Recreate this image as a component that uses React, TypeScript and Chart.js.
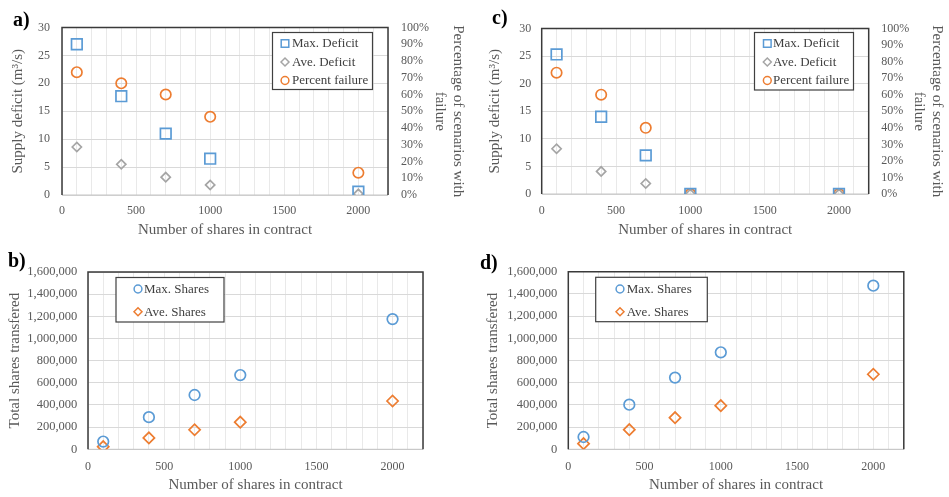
import React, { useEffect, useRef } from 'react';
import { Chart, registerables } from 'chart.js';

Chart.register(...registerables);

// ---------- data ----------
const shares = [100, 400, 700, 1000, 2000];
const xTickValues = [0, 500, 1000, 1500, 2000];

// panel a
const aMaxDeficit = [27.0, 17.7, 11.0, 6.5, 0.6];
const aAveDeficit = [8.6, 5.5, 3.2, 1.8, 0.2];
const aPercentFailure = [73.3, 66.7, 60.0, 46.7, 13.3];

// panel c
const cMaxDeficit = [25.3, 14.0, 7.0, 0, 0];
const cAveDeficit = [8.2, 4.1, 1.9, 0, 0];
const cPercentFailure = [73.3, 60.0, 40.0, 0, 0];

// panel b
const bMaxShares = [70000, 290000, 490000, 670000, 1175000];
const bAveShares = [24000, 103000, 176000, 245000, 436000];

// panel d
const dMaxShares = [111000, 402000, 646000, 874000, 1474000];
const dAveShares = [51000, 177000, 285000, 393000, 676000];

const deficitLabels = ['Max. Deficit', 'Ave. Deficit', 'Percent failure'];
const sharesLabels = ['Max. Shares', 'Ave. Shares'];

// ---------- styles ----------
const BLUE = '#5B9BD5';
const GRAY = '#A5A5A5';
const ORANGE = '#ED7D31';
const TEXT = '#595959';
const FONT = '"Liberation Serif", "Times New Roman", serif';

Chart.defaults.font.family = FONT;
Chart.defaults.color = TEXT;

const framePlugin = {
  id: 'frame',
  beforeDatasetsDraw(chart: any) {
    const { ctx, chartArea } = chart;
    const { left, right, top, bottom } = chartArea;
    ctx.save();
    ctx.strokeStyle = '#c4c4c4';
    ctx.lineWidth = 1;
    ctx.beginPath();
    ctx.moveTo(left, bottom);
    ctx.lineTo(right, bottom);
    ctx.stroke();
    ctx.strokeStyle = '#3a3a3a';
    ctx.lineWidth = 1.5;
    ctx.beginPath();
    ctx.moveTo(left, bottom);
    ctx.lineTo(left, top);
    ctx.lineTo(right, top);
    ctx.lineTo(right, bottom);
    ctx.stroke();
    ctx.restore();
  },
};

function drawMarker(ctx: CanvasRenderingContext2D, style: string, x: number, y: number, s: number, color: string) {
  ctx.beginPath();
  if (style === 'rect') {
    ctx.rect(x - s, y - s, 2 * s, 2 * s);
  } else if (style === 'rectRot') {
    ctx.moveTo(x - s, y);
    ctx.lineTo(x, y - s);
    ctx.lineTo(x + s, y);
    ctx.lineTo(x, y + s);
    ctx.closePath();
  } else {
    ctx.arc(x, y, s, 0, Math.PI * 2);
  }
  ctx.strokeStyle = color;
  ctx.lineWidth = 1.5;
  ctx.stroke();
}

const boxLegendPlugin = {
  id: 'boxLegend',
  afterDatasetsDraw(chart: any, _args: any, opts: any) {
    const { ctx } = chart;
    const { x, y, w, h, markerX, textX, rows } = opts;
    ctx.save();
    ctx.fillStyle = '#ffffff';
    ctx.fillRect(x, y, w, h);
    ctx.strokeStyle = '#404040';
    ctx.lineWidth = 1.2;
    ctx.strokeRect(x, y, w, h);
    ctx.font = `13px ${FONT}`;
    ctx.textBaseline = 'middle';
    ctx.textAlign = 'left';
    chart.data.datasets.forEach((ds: any, i: number) => {
      const cy = rows[i];
      const st = ds.pointStyle;
      const s = st === 'rect' ? 3.8 : st === 'rectRot' ? 4 : 3.9;
      drawMarker(ctx, st, markerX, cy, s, ds.borderColor);
      ctx.fillStyle = '#404040';
      ctx.fillText(ds.label, textX, cy + 0.5);
    });
    ctx.restore();
  },
};

function scatterDataset(label: string, values: number[], style: string, color: string, radius: number, yAxisID = 'y') {
  return {
    type: 'scatter',
    label,
    data: shares.map((x, i) => ({ x, y: values[i] })),
    pointStyle: style,
    pointRadius: radius,
    pointHoverRadius: radius,
    borderColor: color,
    pointBorderColor: color,
    backgroundColor: 'rgba(0,0,0,0)',
    pointBackgroundColor: 'rgba(0,0,0,0)',
    pointBorderWidth: 1.7,
    showLine: false,
    yAxisID,
  };
}

function xScale(g: any) {
  return {
    type: 'linear',
    position: 'bottom',
    min: 0,
    max: 2200,
    ticks: {
      stepSize: 100,
      autoSkip: false,
      maxRotation: 0,
      padding: g.xTickPad,
      font: { size: 12 },
      color: TEXT,
      callback: (v: number) => (xTickValues.includes(v) ? String(v) : ''),
    },
    grid: { color: '#e9e9e9', drawTicks: false, lineWidth: 1 },
    border: { display: false },
    title: {
      display: true,
      text: 'Number of shares in contract',
      font: { size: 15, lineHeight: 1.2 },
      color: TEXT,
      padding: { top: 0, bottom: g.xTitlePad },
    },
    afterFit: (s: any) => {
      s.height = g.xH;
    },
  };
}

function deficitConfig(g: any, maxD: number[], aveD: number[], pct: number[]) {
  return {
    type: 'scatter',
    data: {
      datasets: [
        scatterDataset(deficitLabels[0], maxD, 'rect', BLUE, 7.5),
        scatterDataset(deficitLabels[1], aveD, 'rectRot', GRAY, 4.6),
        scatterDataset(deficitLabels[2], pct, 'circle', ORANGE, 5.2, 'y1'),
      ],
    },
    options: {
      responsive: false,
      animation: false,
      events: [],
      layout: { padding: { top: g.top, left: 0, right: 0, bottom: 0 } },
      plugins: {
        legend: { display: false },
        tooltip: { enabled: false },
        boxLegend: g.legend,
      },
      scales: {
        x: xScale(g),
        y: {
          type: 'linear',
          position: 'left',
          min: 0,
          max: 30,
          ticks: { stepSize: 5, autoSkip: false, padding: g.yTickPad, font: { size: 12 }, color: TEXT },
          grid: { color: '#d9d9d9', drawTicks: false },
          border: { display: false },
          title: {
            display: true,
            text: 'Supply deficit (m³/s)',
            font: { size: 15, lineHeight: 1.2 },
            color: TEXT,
            padding: { top: g.yTitlePad, bottom: 0 },
          },
          afterFit: (s: any) => {
            s.width = g.leftW;
          },
        },
        y1: {
          type: 'linear',
          position: 'right',
          min: 0,
          max: 100,
          ticks: {
            stepSize: 10,
            autoSkip: false,
            padding: g.rTickPad,
            font: { size: 12 },
            color: TEXT,
            callback: (v: number) => v + '%',
          },
          grid: { display: false, drawTicks: false, drawOnChartArea: false },
          border: { display: false },
          title: {
            display: true,
            text: ['Percentage of scenarios with', 'failure'],
            font: { size: 15, lineHeight: 1.2 },
            color: TEXT,
            padding: { top: g.rTitlePad, bottom: 0 },
          },
          afterFit: (s: any) => {
            s.width = g.rightW;
          },
        },
      },
    },
    plugins: [framePlugin, boxLegendPlugin],
  };
}

function sharesConfig(g: any, maxS: number[], aveS: number[]) {
  return {
    type: 'scatter',
    data: {
      datasets: [
        scatterDataset(sharesLabels[0], maxS, 'circle', BLUE, 5.3),
        scatterDataset(sharesLabels[1], aveS, 'rectRot', ORANGE, 5.6),
      ],
    },
    options: {
      responsive: false,
      animation: false,
      events: [],
      layout: { padding: { top: g.top, left: 0, right: g.padRight, bottom: 0 } },
      plugins: {
        legend: { display: false },
        tooltip: { enabled: false },
        boxLegend: g.legend,
      },
      scales: {
        x: xScale(g),
        y: {
          type: 'linear',
          position: 'left',
          min: 0,
          max: 1600000,
          ticks: {
            stepSize: 200000,
            autoSkip: false,
            padding: g.yTickPad,
            font: { size: 12.5 },
            color: TEXT,
            callback: (v: number) => v.toLocaleString('en-US'),
          },
          grid: { color: '#d9d9d9', drawTicks: false },
          border: { display: false },
          title: {
            display: true,
            text: 'Total shares transfered',
            font: { size: 15, lineHeight: 1.2 },
            color: TEXT,
            padding: { top: g.yTitlePad, bottom: 0 },
          },
          afterFit: (s: any) => {
            s.width = g.leftW;
          },
        },
      },
    },
    plugins: [framePlugin, boxLegendPlugin],
  };
}

const geomA = {
  top: 27.5, leftW: 62, rightW: 87, xH: 55,
  yTickPad: 12, yTitlePad: 9, rTickPad: 13, rTitlePad: 8, xTickPad: 9, xTitlePad: 11,
  legend: { x: 272.5, y: 32.5, w: 100, h: 57, markerX: 285, textX: 292, rows: [43.5, 62, 80.5] },
};
const geomC = {
  top: 28.5, leftW: 66.7, rightW: 80.3, xH: 56,
  yTickPad: 10.5, yTitlePad: 11, rTickPad: 12.5, rTitlePad: 3, xTickPad: 10, xTitlePad: 11,
  legend: { x: 279.5, y: 32.5, w: 99, h: 57.5, markerX: 292.3, textX: 298, rows: [43.5, 62, 80.5] },
};
const geomB = {
  top: 22, leftW: 88, padRight: 52, xH: 47.7,
  yTickPad: 10.7, yTitlePad: 6, xTickPad: 10, xTitlePad: 3,
  legend: { x: 116, y: 27.5, w: 108, h: 44.5, markerX: 138, textX: 144, rows: [39, 61.7] },
};
const geomD = {
  top: 21.7, leftW: 93.3, padRight: 45.2, xH: 47.7,
  yTickPad: 11, yTitlePad: 9.3, xTickPad: 10, xTitlePad: 3,
  legend: { x: 120.7, y: 27.3, w: 111.6, h: 44.4, markerX: 145, textX: 151.7, rows: [39, 61.7] },
};

function ChartCanvas({ config, left, top, width, height }: any) {
  const ref = useRef<HTMLCanvasElement | null>(null);
  useEffect(() => {
    if (!ref.current) return;
    const chart = new Chart(ref.current, config);
    return () => chart.destroy();
  }, [config]);
  return (
    <canvas
      ref={ref}
      width={width}
      height={height}
      style={{ position: 'absolute', left, top, width, height, display: 'block' }}
    />
  );
}

const cfgA = deficitConfig(geomA, aMaxDeficit, aAveDeficit, aPercentFailure);
const cfgC = deficitConfig(geomC, cMaxDeficit, cAveDeficit, cPercentFailure);
const cfgB = sharesConfig(geomB, bMaxShares, bAveShares);
const cfgD = sharesConfig(geomD, dMaxShares, dAveShares);

const letterStyle: any = {
  position: 'absolute',
  fontFamily: FONT,
  fontWeight: 'bold',
  fontSize: 20,
  lineHeight: '20px',
  color: '#000',
};

export default function App() {
  return (
    <div style={{ position: 'absolute', left: 0, top: 0, width: 949, height: 497, background: '#fff', overflow: 'hidden' }}>
      <ChartCanvas config={cfgA} left={0} top={0} width={475} height={250} />
      <ChartCanvas config={cfgC} left={475} top={0} width={474} height={250} />
      <ChartCanvas config={cfgB} left={0} top={250} width={475} height={247} />
      <ChartCanvas config={cfgD} left={475} top={250} width={474} height={247} />
      <div style={{ ...letterStyle, left: 13, top: 9 }}>a)</div>
      <div style={{ ...letterStyle, left: 492, top: 7 }}>c)</div>
      <div style={{ ...letterStyle, left: 8, top: 250 }}>b)</div>
      <div style={{ ...letterStyle, left: 480, top: 252 }}>d)</div>
    </div>
  );
}
